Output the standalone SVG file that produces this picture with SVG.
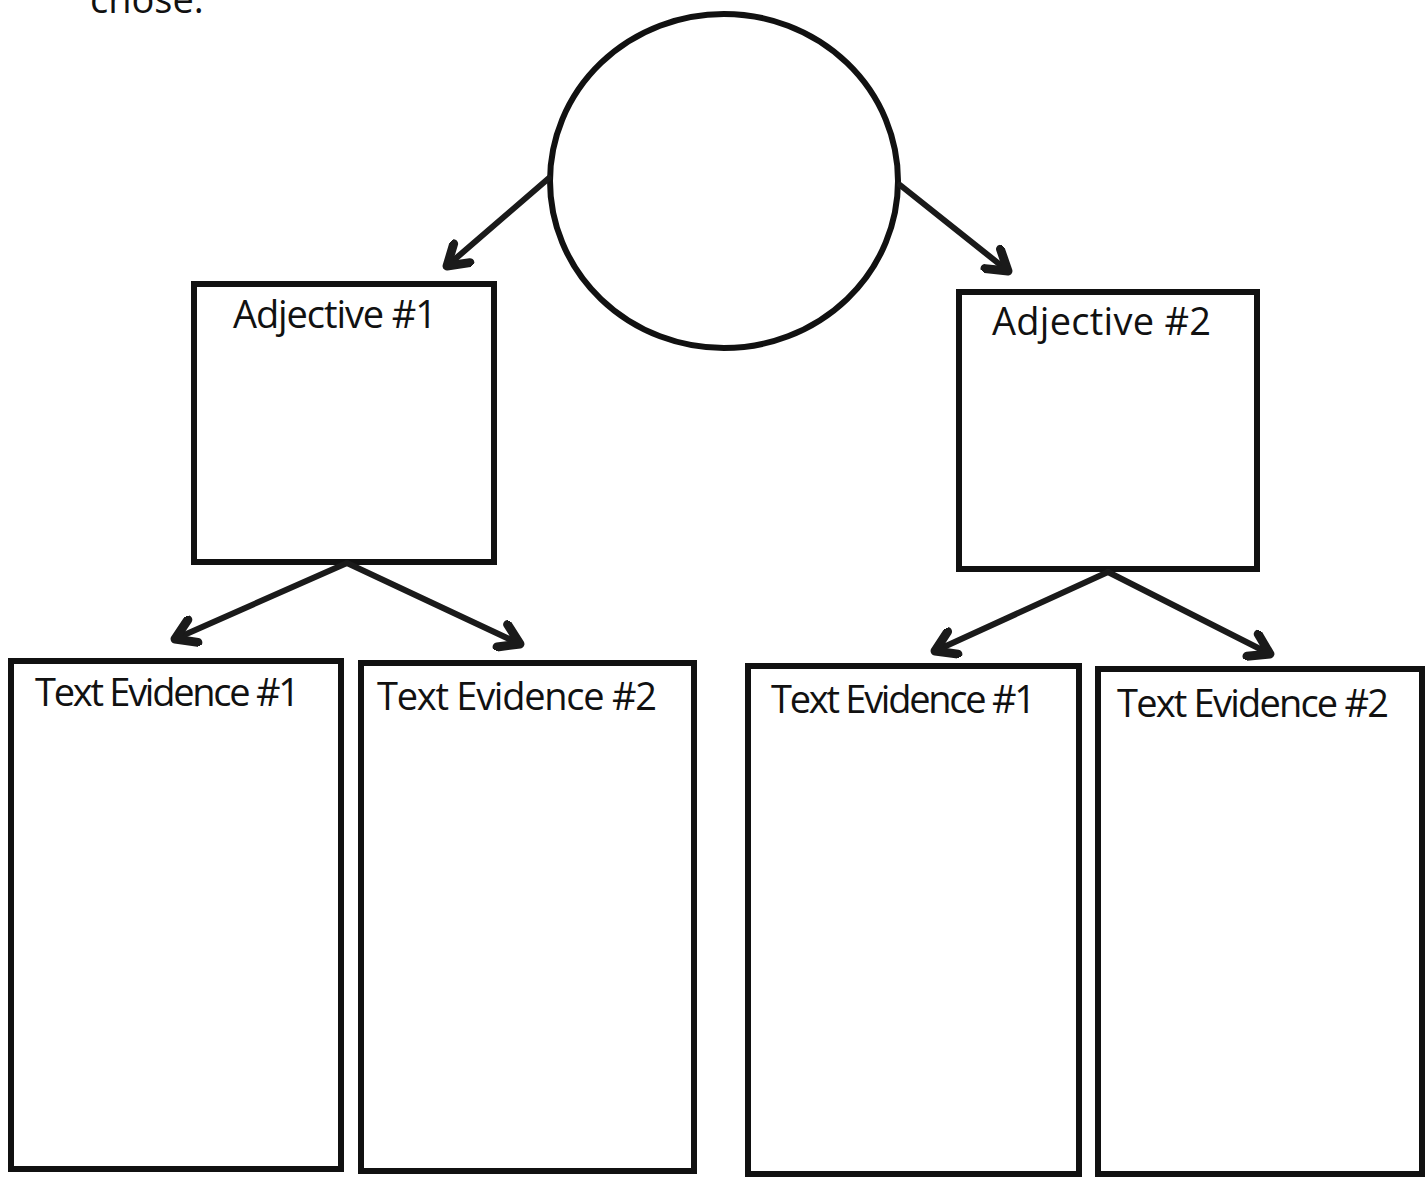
<svg xmlns="http://www.w3.org/2000/svg" width="1426" height="1177" viewBox="0 0 1426 1177">
<style>
.box{fill:#fff;stroke:#111;stroke-width:6}
.lbl{font-family:"Open Sans","Liberation Sans",sans-serif;font-size:38px;fill:#111}
.conn{stroke:#1a1a1a;stroke-width:6;fill:none;stroke-linecap:round}
</style>
<defs>
<marker id="ah" markerWidth="32" markerHeight="32" refX="0" refY="0" viewBox="-13 -9 15 18" orient="auto" markerUnits="userSpaceOnUse">
<path d="M-11,-7 L0,0 L-11,7" fill="none" stroke="#1a1a1a" stroke-width="5" stroke-linecap="round" stroke-linejoin="round"/>
</marker>
</defs>
<rect width="1426" height="1177" fill="#fff"/>
<text class="lbl" x="90" y="13">chose.</text>
<g id="circle"><ellipse cx="724" cy="181" rx="174" ry="167" fill="#fff" stroke="#111" stroke-width="6"/></g>
<g id="adj1"><rect class="box" x="194" y="284" width="300" height="278"/><text class="lbl" x="233" y="328" textLength="204">Adjective #1</text></g>
<g id="adj2"><rect class="box" x="959" y="292" width="298" height="277"/><text class="lbl" x="992" y="335" textLength="219">Adjective #2</text></g>
<g id="te1"><rect class="box" x="11" y="661" width="330" height="508"/><text class="lbl" x="35" y="706" textLength="265">Text Evidence #1</text></g>
<g id="te2"><rect class="box" x="361" y="663" width="333" height="508"/><text class="lbl" x="377" y="710" textLength="280">Text Evidence #2</text></g>
<g id="te3"><rect class="box" x="748" y="666" width="331" height="508"/><text class="lbl" x="771" y="713" textLength="265">Text Evidence #1</text></g>
<g id="te4"><rect class="box" x="1098" y="669" width="324" height="505"/><text class="lbl" x="1117" y="717" textLength="272">Text Evidence #2</text></g>
<g id="connectors">
<line class="conn" x1="549" y1="178" x2="447" y2="266" marker-end="url(#ah)"/>
<line class="conn" x1="900" y1="185" x2="1008" y2="271" marker-end="url(#ah)"/>
<line class="conn" x1="347" y1="563" x2="175" y2="639" marker-end="url(#ah)"/>
<line class="conn" x1="347" y1="563" x2="520" y2="644" marker-end="url(#ah)"/>
<line class="conn" x1="1108" y1="572" x2="935" y2="651" marker-end="url(#ah)"/>
<line class="conn" x1="1108" y1="572" x2="1270" y2="654" marker-end="url(#ah)"/>
</g>
</svg>
